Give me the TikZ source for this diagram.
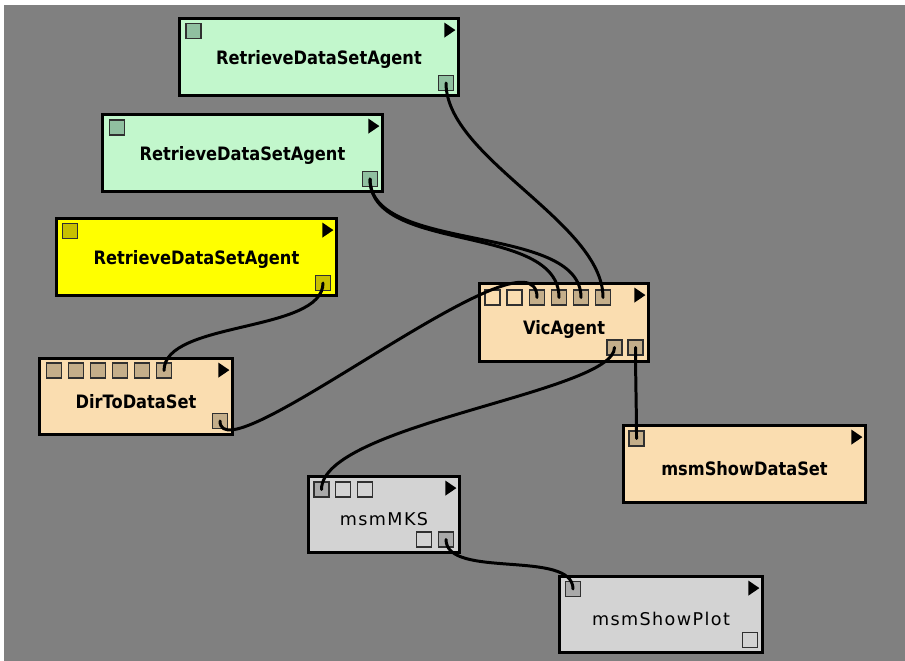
\documentclass[tikz,border=0pt]{standalone}
\usepackage{fontspec}
\setmainfont{DejaVu Sans}
\newfontfamily\agentfont{DejaVu Sans}[FakeStretch=0.88]
\newfontfamily\msmfont{DejaVu Sans}[LetterSpace=8]
\usepackage{tikz}
\definecolor{canvas}{HTML}{808080}
\definecolor{mint}{HTML}{C2F7CC}
\definecolor{mintport}{HTML}{90C0A0}
\definecolor{lemon}{HTML}{FFFF00}
\definecolor{lemonport}{HTML}{C8C000}
\definecolor{peach}{HTML}{FADDB0}
\definecolor{tanport}{HTML}{C4AE8A}
\definecolor{silver}{HTML}{D3D3D3}
\definecolor{silverport}{HTML}{A9A9A9}
\definecolor{portline}{HTML}{303030}

\begin{document}
\begin{tikzpicture}[x=0.02cm, y=-0.02cm]
% Definition of blocks:
\usetikzlibrary{calc}
\tikzset{%
  agent/.style    = {draw, line width=1.6pt, rectangle, inner sep=0pt, text depth=0pt, text height=13.4pt, font=\agentfont\bfseries\fontsize{10.5}{12}\selectfont},
  fetch/.style    = {agent, fill=mint, text height=8.3pt}, % Retrieve
  vis/.style      = {agent, fill=peach},
  msm/.style      = {agent, fill=silver, text height=12.2pt, font=\msmfont\fontsize{10}{12}\selectfont},
  port/.style     = {draw=portline, line width=0.8pt, rectangle, minimum size=0.3cm, inner sep=0pt},
  wire/.style     = {line width=1.7pt, line cap=round}
}
\useasboundingbox (0,0) rectangle (905,661);
\fill[white] (0,0) rectangle (905,661);
\fill[canvas] (4,5) rectangle (905,661);

\draw
	node [fetch, minimum width=5.58cm, minimum height=1.54cm] (rd1) at (319,57) {RetrieveDataSetAgent}
	node [fetch, minimum width=5.6cm, minimum height=1.54cm] (rd2) at (242.5,153) {RetrieveDataSetAgent}
	node [fetch, fill=lemon, minimum width=5.6cm, minimum height=1.54cm] (rd3) at (196.5,257) {RetrieveDataSetAgent}
	node [vis, minimum width=3.86cm, minimum height=1.52cm] (dir) at (136,396.5) {DirToDataSet}
	node [vis, minimum width=3.38cm, minimum height=1.56cm] (vic) at (564,322.5) {VicAgent}
	node [vis, minimum width=4.84cm, minimum height=1.54cm] (sds) at (744.5,464) {msmShowDataSet}
	node [msm, minimum width=3.02cm, minimum height=1.52cm] (mks) at (384,514.5) {msmMKS}
	node [msm, minimum width=4.06cm, minimum height=1.52cm] (plot) at (661,614.5) {msmShowPlot};

% ports
\node [port, fill=mintport] (rd1i) at (193.5,31) {};
\node [port, fill=mintport] (rd1o) at (446,83) {};
\node [port, fill=mintport] (rd2i) at (117,127.5) {};
\node [port, fill=mintport] (rd2o) at (370,179) {};
\node [port, fill=lemonport] (rd3i) at (70,231) {};
\node [port, fill=lemonport] (rd3o) at (323,283) {};
\foreach \x [count=\i] in {54,76,98,120,142,164}
	\node [port, fill=tanport] (dir\i) at (\x,370.5) {};
\node [port, fill=tanport] (diro) at (220,421) {};
\foreach \x [count=\i] in {492.5,514.5}
	\node [port] (vic\i) at (\x,297.5) {};
\foreach \x [count=\i from 3] in {537,559,581,603}
	\node [port, fill=tanport] (vic\i) at (\x,297.5) {};
\node [port, fill=tanport] (vico1) at (614.5,347.5) {};
\node [port, fill=tanport] (vico2) at (635.5,347.5) {};
\node [port, fill=tanport] (sdsi) at (636.5,438.5) {};
\node [port, fill=silverport] (mks1) at (321.5,489.5) {};
\node [port] (mks2) at (343,489.5) {};
\node [port] (mks3) at (365,489.5) {};
\node [port] (mkso1) at (424,539.5) {};
\node [port, fill=silverport] (mkso2) at (446,539.5) {};
\node [port, fill=silverport] (ploti) at (573,589) {};
\node [port] (ploto) at (750,640) {};

% run markers
\foreach \m in {rd1,rd2,rd3,dir,vic,sds,mks,plot}
	\fill ($(\m.north east)+(-15.5,5.5)$) -- ++(0,15) -- ++(11,-7.5) -- cycle;

% connections
\draw[wire] (rd1o.center) .. controls +(0,75) and +(0,-75) .. (vic6.center);
\draw[wire] (rd2o.center) .. controls +(0,75) and +(0,-75) .. (vic4.center);
\draw[wire] (rd2o.center) .. controls +(0,75) and +(0,-75) .. (vic5.center);
\draw[wire] (rd3o.center) .. controls +(0,50) and +(0,-50) .. (dir6.center);
\draw[wire] (diro.center) .. controls +(0,60) and +(0,-80) .. (vic3.center);
\draw[wire] (vico1.center) .. controls +(0,45) and +(0,-65) .. (mks1.center);
\draw[wire] (vico2.center) .. controls +(0,30) and +(0,-30) .. (sdsi.center);
\draw[wire] (mkso2.center) .. controls +(0,40) and +(0,-40) .. (ploti.center);
%
\end{tikzpicture}
\end{document}
